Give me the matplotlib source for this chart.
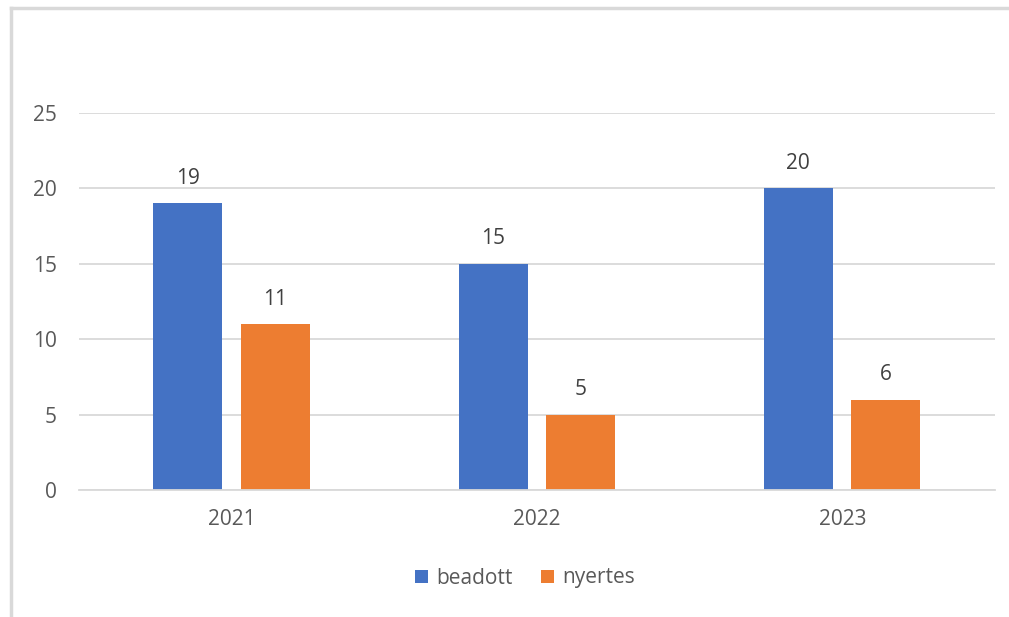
import numpy as np
import matplotlib.pyplot as plt

years = ["2021", "2022", "2023"]
beadott = [19, 15, 20]
nyertes = [11, 5, 6]

plt.rcParams['font.family'] = ['Open Sans', 'DejaVu Sans']
txt = '#595959'

fig = plt.figure(figsize=(10.09, 6.17), dpi=100)
ax = fig.add_axes([79/1009, 1 - 490/617, (995-79)/1009, (490-113)/617])

x = np.arange(len(years))
w = 0.226
b1 = ax.bar(x - 0.144, beadott, w, color='#4472C4', label='beadott')
b2 = ax.bar(x + 0.142, nyertes, w, color='#ED7D31', label='nyertes')

for bars in (b1, b2):
    for r in bars:
        ax.text(r.get_x() + r.get_width()/2, r.get_height() + 0.95, str(int(r.get_height())),
                ha='center', va='bottom', fontsize=15, color='#404040')

ax.set_xlim(-0.5, 2.5)
ax.set_ylim(0, 25)
ax.set_yticks(range(0, 26, 5))
ax.set_xticks(x)
ax.set_xticklabels(years)
ax.yaxis.grid(True, color='#D9D9D9', linewidth=1.3)
ax.set_axisbelow(True)
for s in ['top', 'right', 'left']:
    ax.spines[s].set_visible(False)
ax.spines['bottom'].set_color('#D9D9D9')
ax.spines['bottom'].set_linewidth(1.3)
ax.tick_params(length=0, labelsize=15, colors=txt)
ax.tick_params(axis='y', pad=16)
ax.tick_params(axis='x', pad=14)

leg = fig.legend(loc='center', bbox_to_anchor=(525/1009, 1 - 578/617), ncol=2, frameon=False,
                 fontsize=15, handlelength=0.6, handleheight=0.6, columnspacing=1.4, handletextpad=0.4)
for t in leg.get_texts():
    t.set_color(txt)

# chart border (top and left visible)
fig.add_artist(plt.Line2D([11/1009, 11/1009], [0, 1 - 8/617], color='#D9D9D9', linewidth=2.5, transform=fig.transFigure))
fig.add_artist(plt.Line2D([11/1009, 1], [1 - 8/617, 1 - 8/617], color='#D9D9D9', linewidth=2.5, transform=fig.transFigure))

fig.savefig('out.png', dpi=100)
